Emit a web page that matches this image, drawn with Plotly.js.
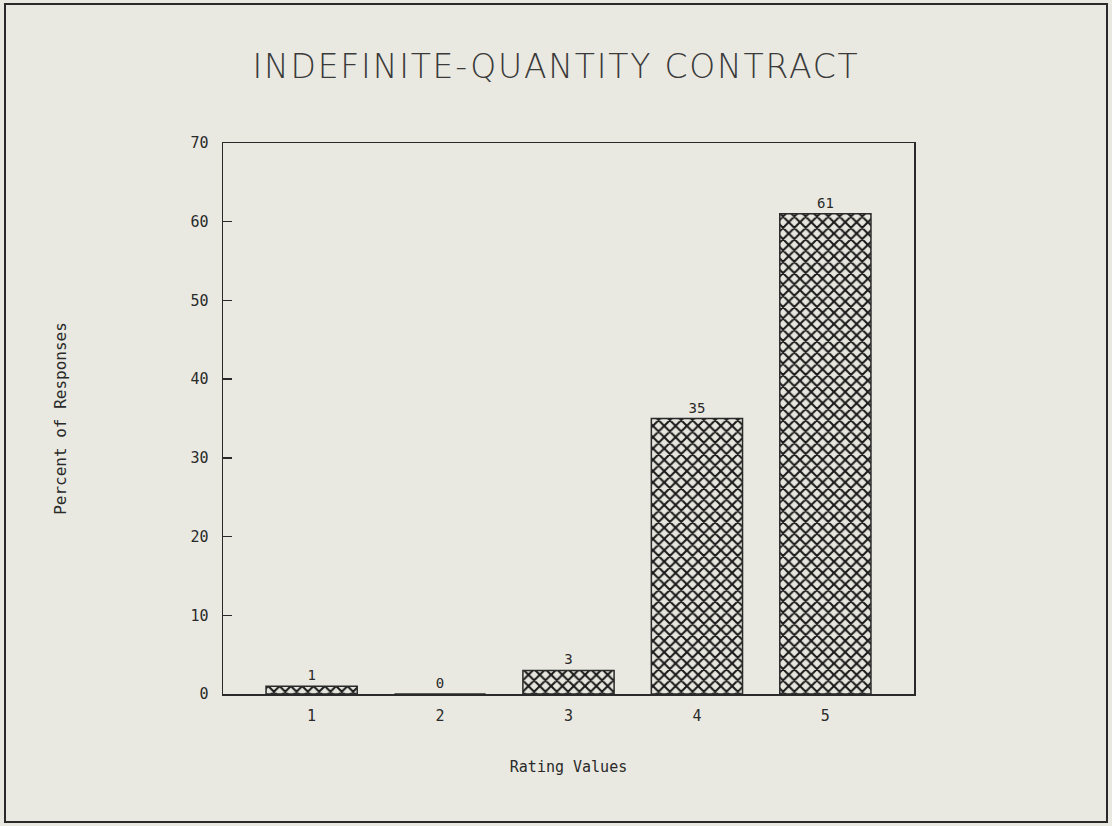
<!DOCTYPE html>
<html>
<head>
<meta charset="utf-8">
<script src="https://cdn.plot.ly/plotly-3.0.1.min.js"></script>
<style>
  html, body { margin: 0; padding: 0; background: #e9e9e1; }
  #chart { width: 1112px; height: 826px; }
</style>
</head>
<body>
<div id="chart"></div>
<script>
const categories = [1, 2, 3, 4, 5];
const percentResponses = [1, 0, 3, 35, 61];
const barLabels = ["1", "0", "3", "35", "61"];
const yTickValues = [0, 10, 20, 30, 40, 50, 60, 70];
const xTickLabels = ["1", "2", "3", "4", "5"];

const ink = "#2a2a2a";
const paperBg = "#e9e9e1";

const trace = {
  type: "bar",
  x: categories,
  y: percentResponses,
  width: 0.71,
  text: barLabels,
  textposition: "outside",
  cliponaxis: false,
  textfont: { family: "DejaVu Sans Mono", size: 14, color: ink },
  marker: {
    color: paperBg,
    line: { color: ink, width: 1.5 },
    pattern: { shape: "x", fgcolor: "#1a1a1a", bgcolor: "#e6e6de", size: 8, solidity: 0.45 }
  },
  hoverinfo: "skip"
};

const layout = {
  width: 1112,
  height: 826,
  paper_bgcolor: paperBg,
  plot_bgcolor: paperBg,
  margin: { l: 223, r: 198, t: 143, b: 132 },
  showlegend: false,
  title: {
    text: "INDEFINITE-QUANTITY CONTRACT",
    font: { family: "DejaVu Sans", size: 33, weight: 200, color: "#3a3a3a" },
    x: 556 / 1112, xanchor: "center", xref: "container",
    y: 1 - 66 / 826, yanchor: "middle", yref: "container"
  },
  xaxis: {
    range: [0.31, 5.69],
    tickvals: categories,
    ticktext: xTickLabels,
    ticks: "",
    showgrid: false,
    zeroline: false,
    showline: true,
    mirror: true,
    linecolor: ink,
    linewidth: 1.5,
    tickfont: { family: "DejaVu Sans Mono", size: 15, color: ink },
    ticklabelstandoff: 7,
    title: {
      text: "Rating Values",
      font: { family: "DejaVu Sans Mono", size: 15, color: ink },
      standoff: 38
    }
  },
  yaxis: {
    range: [0, 70],
    tickvals: yTickValues,
    ticks: "inside",
    ticklen: 9,
    tickwidth: 1.5,
    tickcolor: ink,
    showgrid: false,
    zeroline: false,
    showline: true,
    mirror: true,
    linecolor: ink,
    linewidth: 1.5,
    tickfont: { family: "DejaVu Sans Mono", size: 15, color: ink },
    ticklabelstandoff: 10,
    title: {
      text: "Percent of Responses",
      font: { family: "DejaVu Sans Mono", size: 16, color: ink },
      standoff: 120
    }
  },
  shapes: [{
    type: "rect",
    xref: "paper", yref: "paper",
    x0: (5 - 223) / 691, x1: (1107 - 223) / 691,
    y0: (694 - 822) / 551, y1: (694 - 4) / 551,
    line: { color: ink, width: 2 },
    fillcolor: "rgba(0,0,0,0)",
    layer: "below"
  }]
};

Plotly.newPlot("chart", [trace], layout, { staticPlot: true, displayModeBar: false }).then(function (gd) {
  const t = gd.querySelector(".gtitle");
  if (t) { t.style.letterSpacing = "1.8px"; }
});
</script>
</body>
</html>
